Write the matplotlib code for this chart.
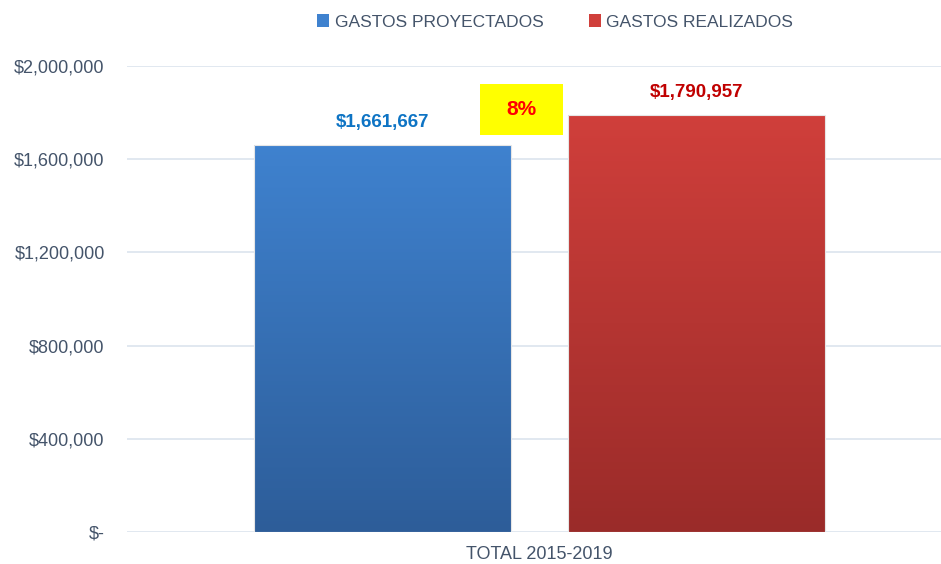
import matplotlib.pyplot as plt
import numpy as np
from matplotlib.patches import Rectangle
from matplotlib.ticker import FuncFormatter
from matplotlib.colors import LinearSegmentedColormap

plt.rcParams['font.family'] = ['Liberation Sans', 'DejaVu Sans']

series = ['GASTOS PROYECTADOS', 'GASTOS REALIZADOS']
values = [1661667, 1790957]
category = 'TOTAL 2015-2019'
pct_label = '8%'
top_colors = ['#3F82CF', '#D03F3B']
bottom_colors = ['#2D5D99', '#9A2B29']
label_colors = ['#0E74C4', '#C00000']
text_col = '#44546A'

fig = plt.figure(figsize=(9.41, 5.64), dpi=100)
ax = fig.add_axes([127/941, 1 - 532/564, 1 - 127/941, (532 - 66)/564])

xpos = [-0.5, 0.5]
width = 0.817
ax.set_xlim(-1.312, 1.276)
ax.set_ylim(0, 2000000)

for i, (x, v) in enumerate(zip(xpos, values)):
    bar = ax.bar(x, v, width=width, color=top_colors[i], edgecolor='none',
                 zorder=2, label=series[i])[0]
    cmap = LinearSegmentedColormap.from_list('g%d' % i, [bottom_colors[i], top_colors[i]])
    grad = np.linspace(0, 1, 256).reshape(-1, 1)
    im = ax.imshow(grad, extent=[x - width/2, x + width/2, 0, v], origin='lower',
                   aspect='auto', cmap=cmap, zorder=3)
    im.set_clip_path(bar)
    # thin light edge like the reference
    ax.add_patch(Rectangle((x - width/2, 0), width, v, facecolor='none',
                           edgecolor='#E6E6E6', linewidth=0.8, zorder=4))
    ax.text(x, v + 58000, '${:,.0f}'.format(v), ha='center', va='bottom',
            fontsize=13.5, fontweight='bold', color=label_colors[i], zorder=5)

# percentage badge
ax.add_patch(Rectangle((-0.19, 1.705e6), 0.264, 0.219e6, facecolor='#FFFF00',
                       edgecolor='none', zorder=4))
ax.text(-0.058, 1.815e6, pct_label, ha='center', va='center', fontsize=15,
        fontweight='bold', color='#FF0000', zorder=5)

ax.set_yticks(np.arange(0, 2000001, 400000))
ax.yaxis.set_major_formatter(FuncFormatter(
    lambda v, p: '$-' if v == 0 else '${:,.0f}'.format(v)))
ax.grid(axis='y', color='#DCE4EE', linewidth=1.2, zorder=0)
ax.set_axisbelow(True)
ax.set_xticks([0.0])
ax.set_xticklabels([category])
ax.tick_params(axis='both', length=0, labelsize=13, colors=text_col)
ax.tick_params(axis='y', pad=16)
ax.tick_params(axis='x', pad=10)
for s in ax.spines.values():
    s.set_visible(False)

handles = [Rectangle((0, 0), 1, 1, facecolor=c) for c in top_colors]
fig.legend(handles, series, loc='center', bbox_to_anchor=(555/941, 1 - 22/564),
           ncol=2, frameon=False, fontsize=12.5, handlelength=0.7, handleheight=0.7,
           handletextpad=0.3, columnspacing=2.6, labelcolor=text_col)

fig.savefig('out.png', dpi=100, facecolor='white')
